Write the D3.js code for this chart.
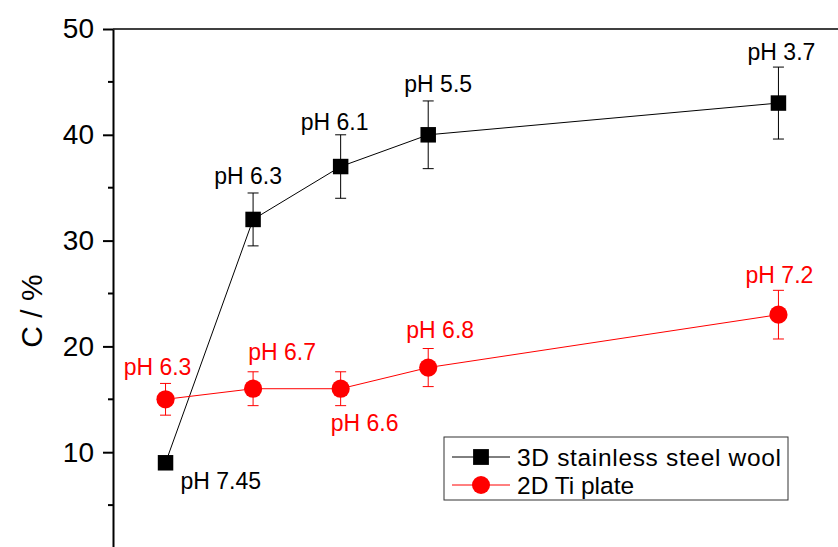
<!DOCTYPE html>
<html>
<head>
<meta charset="utf-8">
<script src="https://cdn.jsdelivr.net/npm/d3@7"></script>
<style>
  body { margin: 0; background: #fff; }
  text { font-family: "Liberation Sans", Arial, sans-serif; }
</style>
</head>
<body>
<svg id="chart"></svg>
<script>
// x positions of the five measurements (no x axis visible in the figure)
var xValues = [1, 2, 3, 4, 8];

var steelValues = [9, 32, 37, 40, 43];
var steelErrors = [0, 2.5, 3, 3.2, 3.4];
var steelLabels = ["pH 7.45", "pH 6.3", "pH 6.1", "pH 5.5", "pH 3.7"];

var tiValues = [15, 16, 16, 18, 23];
var tiErrors = [1.5, 1.6, 1.6, 1.8, 2.3];
var tiLabels = ["pH 6.3", "pH 6.7", "pH 6.6", "pH 6.8", "pH 7.2"];

var seriesNames = ["3D stainless steel wool", "2D Ti plate"];
var yTicks = [10, 20, 30, 40, 50];
var yMinorTicks = [5, 15, 25, 35, 45];

// label nudges in px: [dx from point, dy from error-bar end]
var steelNudge = [[15, 26], [-5, -9], [-6, -5], [10, -9], [3, -7]];
var tiNudge = [[-8, -8], [29, -12], [24, 25], [12, -11], [1, -7]];

var width = 838, height = 547;

var svg = d3.select("#chart")
    .attr("width", width)
    .attr("height", height);

svg.append("rect")
    .attr("width", width)
    .attr("height", height)
    .attr("fill", "#fff");

var x = d3.scaleLinear()
          .domain([0.4, 9])
          .range([113, 866]);

var y = d3.scaleLinear()
          .domain([0, 50])
          .range([558, 29]);

// frame top line
svg.append("line")
    .attr("x1", x(0.4)).attr("x2", width)
    .attr("y1", y(50)).attr("y2", y(50))
    .attr("stroke", "#000")
    .attr("stroke-width", 1.5);

var yAxis = svg.append("g")
    .attr("transform", "translate(" + x(0.4) + ",0)")
    .call(d3.axisLeft(y)
            .tickValues(yTicks)
            .tickSize(10)
            .tickSizeOuter(0)
            .tickPadding(9)
            .tickFormat(d3.format("d")));

yAxis.select(".domain").attr("stroke-width", 2);
yAxis.selectAll(".tick line").attr("stroke-width", 2);
yAxis.selectAll(".tick text")
    .attr("font-size", "28px")
    .attr("font-family", "Liberation Sans, Arial, sans-serif")
    .attr("fill", "#000");

yAxis.selectAll(".minor")
    .data(yMinorTicks)
  .enter().append("line")
    .attr("x1", -5).attr("x2", 0)
    .attr("y1", d => y(d)).attr("y2", d => y(d))
    .attr("stroke", "#000")
    .attr("stroke-width", 2);

svg.append("text")
    .attr("transform", "translate(42," + 311 + ") rotate(-90)")
    .attr("text-anchor", "middle")
    .attr("font-size", "30px")
    .text("C / %");

function drawSeries(values, errors, labels, nudge, color, shape) {
  var pts = values.map((v, i) => ({ x: xValues[i], y: v, e: errors[i], label: labels[i], n: nudge[i] }));
  var g = svg.append("g");

  g.append("path")
      .datum(pts)
      .attr("fill", "none")
      .attr("stroke", color)
      .attr("stroke-width", 1)
      .attr("d", d3.line().x(d => x(d.x)).y(d => y(d.y)));

  var err = g.selectAll(".err")
      .data(pts.filter(d => d.e > 0))
    .enter().append("g")
      .attr("stroke", color)
      .attr("stroke-width", 1);

  err.append("line")
      .attr("x1", d => x(d.x)).attr("x2", d => x(d.x))
      .attr("y1", d => y(d.y + d.e)).attr("y2", d => y(d.y - d.e));
  err.append("line")
      .attr("x1", d => x(d.x) - 5.5).attr("x2", d => x(d.x) + 5.5)
      .attr("y1", d => y(d.y + d.e)).attr("y2", d => y(d.y + d.e));
  err.append("line")
      .attr("x1", d => x(d.x) - 5.5).attr("x2", d => x(d.x) + 5.5)
      .attr("y1", d => y(d.y - d.e)).attr("y2", d => y(d.y - d.e));

  g.selectAll(".mark")
      .data(pts)
    .enter().append("path")
      .attr("transform", d => "translate(" + x(d.x) + "," + y(d.y) + ")")
      .attr("d", d3.symbol().type(shape).size(shape === d3.symbolSquare ? 240 : 260))
      .attr("fill", color);

  g.selectAll(".lbl")
      .data(pts)
    .enter().append("text")
      .attr("x", d => x(d.x) + d.n[0])
      .attr("y", d => (d.n[1] < 0 ? y(d.y + d.e) : y(d.y - d.e)) + d.n[1])
      .attr("text-anchor", (d, i) => (i === 0 && shape === d3.symbolSquare) ? "start" : "middle")
      .attr("font-size", "23px")
      .attr("fill", color)
      .text(d => d.label);
}

drawSeries(steelValues, steelErrors, steelLabels, steelNudge, "#000", d3.symbolSquare);
drawSeries(tiValues, tiErrors, tiLabels, tiNudge, "#ff0000", d3.symbolCircle);

// legend
var legend = svg.append("g");
legend.append("rect")
    .attr("x", 444).attr("y", 437)
    .attr("width", 344).attr("height", 63)
    .attr("fill", "#fff")
    .attr("stroke", "#333")
    .attr("stroke-width", 1);

var legendItems = [
  { name: seriesNames[0], color: "#000", shape: d3.symbolSquare, size: 250 },
  { name: seriesNames[1], color: "#ff0000", shape: d3.symbolCircle, size: 255 }
];

var rows = legend.selectAll(".row")
    .data(legendItems)
  .enter().append("g")
    .attr("transform", (d, i) => "translate(0," + (457 + i * 28) + ")");

rows.append("line")
    .attr("x1", 452).attr("x2", 510)
    .attr("stroke", d => d.color)
    .attr("stroke-width", 1);
rows.append("path")
    .attr("transform", "translate(481,0)")
    .attr("d", d => d3.symbol().type(d.shape).size(d.size)())
    .attr("fill", d => d.color);
rows.append("text")
    .attr("x", 517)
    .attr("dy", "0.35em")
    .attr("font-size", "24.5px")
    .attr("textLength", 264)
    .attr("lengthAdjust", "spacing")
    .attr("fill", "#000")
    .text(d => d.name);

// only stretch the long entry to the reference width
rows.selectAll("text").filter((d, i, n) => d.name !== seriesNames[0]).attr("textLength", null);
</script>
</body>
</html>
